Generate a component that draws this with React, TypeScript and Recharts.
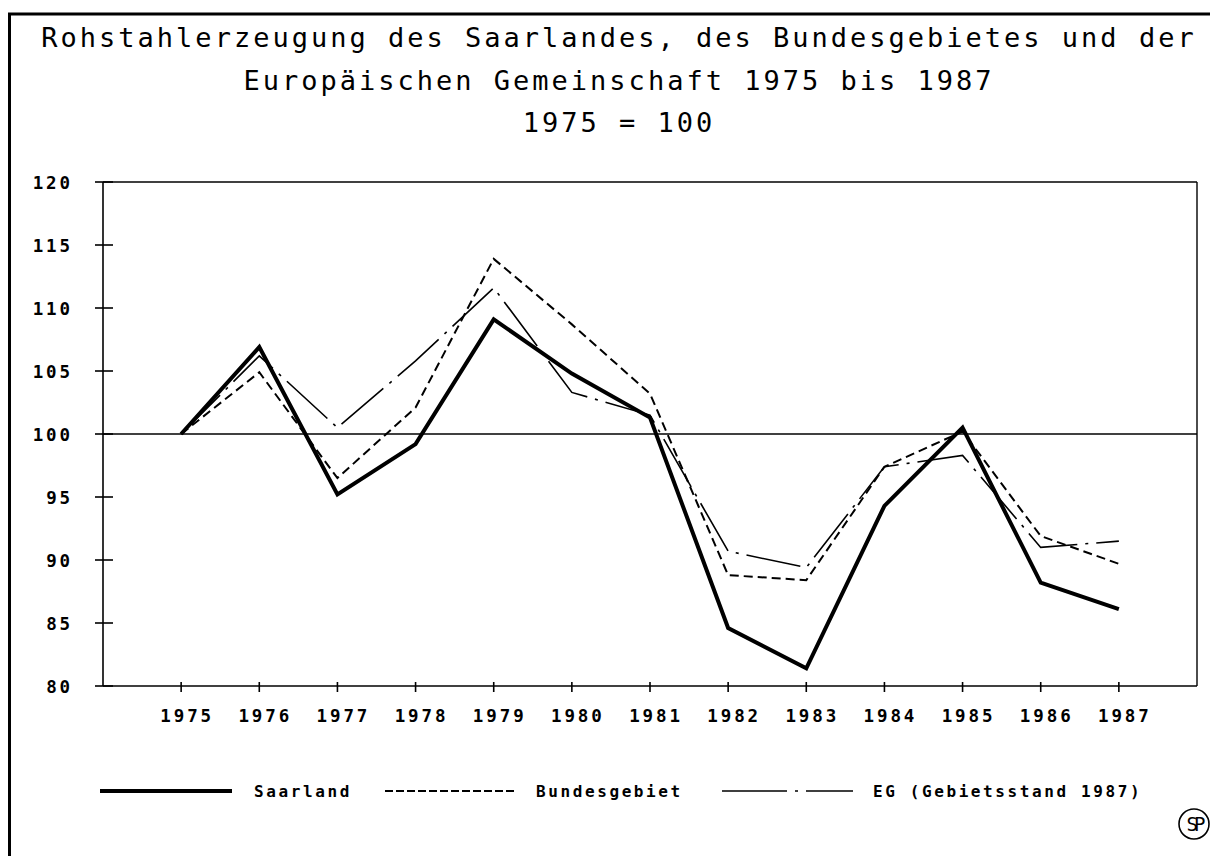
import React from "react";
import { LineChart, Line, XAxis, YAxis, ReferenceLine } from "recharts";

const years = [1975, 1976, 1977, 1978, 1979, 1980, 1981, 1982, 1983, 1984, 1985, 1986, 1987];
const saarland = [100, 106.9, 95.2, 99.2, 109.1, 104.8, 101.3, 84.6, 81.4, 94.3, 100.5, 88.2, 86.1];
const bundesgebiet = [100, 104.9, 96.5, 102.1, 113.9, 108.7, 103.2, 88.8, 88.4, 97.4, 100.2, 91.9, 89.7];
const eg = [100, 106.2, 100.5, 105.8, 111.6, 103.3, 101.5, 90.7, 89.4, 97.4, 98.3, 91.0, 91.5];
const yTicks = [80, 85, 90, 95, 100, 105, 110, 115, 120];
const titleLines = [
  "Rohstahlerzeugung des Saarlandes, des Bundesgebietes und der",
  "Europäischen Gemeinschaft 1975 bis 1987",
  "1975 = 100",
];
const legendLabels = ["Saarland", "Bundesgebiet", "EG (Gebietsstand 1987)"];

const data = years.map((y, i) => ({
  year: y,
  saarland: saarland[i],
  bundesgebiet: bundesgebiet[i],
  eg: eg[i],
}));

const MONO = "'DejaVu Sans Mono', 'Liberation Mono', monospace";

const YTick = (props: any) => {
  const { x, y, payload } = props;
  return (
    <g>
      <line x1={x - 8} x2={x + 10} y1={y} y2={y} stroke="#000" strokeWidth={1.6} />
      <text
        x={x - 30}
        y={y}
        dy={6.5}
        textAnchor="end"
        fontFamily={MONO}
        fontWeight="bold"
        fontSize={17.5}
        letterSpacing={2.9}
        fill="#000"
      >
        {payload.value}
      </text>
    </g>
  );
};

const XTick = (props: any) => {
  const { x, y, payload } = props;
  return (
    <g>
      <line x1={x} x2={x} y1={y - 4} y2={y + 6} stroke="#000" strokeWidth={1.6} />
      <text
        x={x + 6}
        y={y + 36}
        textAnchor="middle"
        fontFamily={MONO}
        fontWeight="bold"
        fontSize={17.5}
        letterSpacing={2.9}
        fill="#000"
      >
        {payload.value}
      </text>
    </g>
  );
};

export default function App() {
  return (
    <div style={{ position: "relative", width: 1210, height: 848, background: "#fff" }}>
      <div style={{ position: "absolute", left: 0, top: 0 }}>
        <LineChart
          width={1210}
          height={848}
          data={data}
          margin={{ top: 174, right: 21, bottom: 130, left: 35 }}
        >
          <XAxis
            dataKey="year"
            type="number"
            domain={[1974, 1988]}
            ticks={years}
            allowDecimals={false}
            height={40}
            tickSize={0}
            tickMargin={0}
            tickLine={false}
            axisLine={{ stroke: "#000", strokeWidth: 1.6 }}
            tick={<XTick />}
            interval={0}
          />
          <YAxis
            type="number"
            domain={[80, 120]}
            ticks={yTicks}
            width={60}
            tickSize={0}
            tickMargin={0}
            tickLine={false}
            axisLine={{ stroke: "#000", strokeWidth: 1.6 }}
            tick={<YTick />}
            interval={0}
          />
          <ReferenceLine y={120} stroke="#000" strokeWidth={1.4} />
          <ReferenceLine x={1988} stroke="#000" strokeWidth={1.4} />
          <ReferenceLine y={100} stroke="#000" strokeWidth={1.4} />
          <Line
            dataKey="eg"
            stroke="#000"
            strokeWidth={1.6}
            strokeDasharray="55 8 3 8"
            dot={false}
            isAnimationActive={false}
          />
          <Line
            dataKey="bundesgebiet"
            stroke="#000"
            strokeWidth={2}
            strokeDasharray="9 5"
            dot={false}
            isAnimationActive={false}
          />
          <Line
            dataKey="saarland"
            stroke="#000"
            strokeWidth={4}
            dot={false}
            isAnimationActive={false}
          />
        </LineChart>
      </div>
      <svg
        width={1210}
        height={848}
        style={{ position: "absolute", left: 0, top: 0, pointerEvents: "none" }}
      >
        <line x1={0} y1={6} x2={1210} y2={6} stroke="#000" strokeWidth={3} />
        <line x1={1.5} y1={6} x2={1.5} y2={848} stroke="#000" strokeWidth={3} />
        {titleLines.map((t, i) => (
          <text
            key={i}
            x={611}
            y={39 + i * 42.5}
            textAnchor="middle"
            fontFamily={MONO}
            fontSize={27}
            letterSpacing={3.0}
            fill="#000"
          >
            {t}
          </text>
        ))}
        <line x1={92} y1={783} x2={224} y2={783} stroke="#000" strokeWidth={4} />
        <text x={246} y={789} fontFamily={MONO} fontWeight="bold" fontSize={16} letterSpacing={2.6} fill="#000">
          {legendLabels[0]}
        </text>
        <line x1={377} y1={783} x2={507} y2={783} stroke="#000" strokeWidth={2} strokeDasharray="8 3" />
        <text x={528} y={789} fontFamily={MONO} fontWeight="bold" fontSize={16} letterSpacing={2.6} fill="#000">
          {legendLabels[1]}
        </text>
        <line x1={714} y1={783} x2={845} y2={783} stroke="#000" strokeWidth={1.6} strokeDasharray="65 8 3 8 200" />
        <text x={865} y={789} fontFamily={MONO} fontWeight="bold" fontSize={16} letterSpacing={2.6} fill="#000">
          {legendLabels[2]}
        </text>
        <circle cx={1186} cy={816} r={15} fill="none" stroke="#000" strokeWidth={1.6} />
        <text x={1186} y={823} textAnchor="middle" fontFamily={MONO} fontSize={19} letterSpacing={-4} fill="#000">
          SP
        </text>
      </svg>
    </div>
  );
}
